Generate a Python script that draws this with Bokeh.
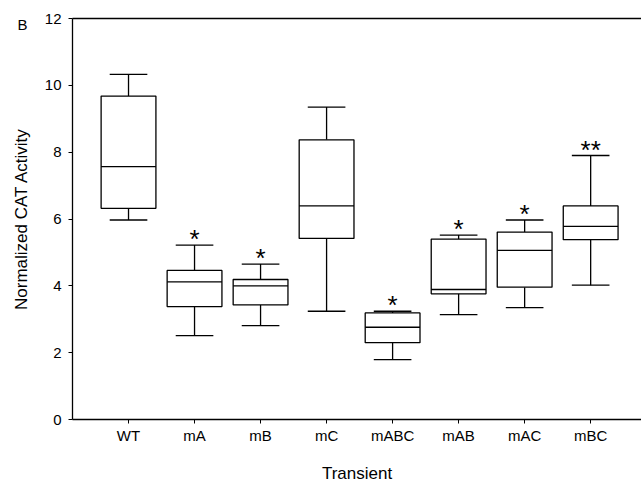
from bokeh.plotting import figure
from bokeh.models import Range1d, FixedTicker, LinearAxis, ColumnDataSource, Title
from bokeh.core.properties import value
from bokeh.embed import file_html
from bokeh.resources import INLINE

categories = ["WT", "mA", "mB", "mC", "mABC", "mAB", "mAC", "mBC"]
whisker_low = [5.97, 2.51, 2.81, 3.24, 1.79, 3.14, 3.35, 4.02]
q1 = [6.32, 3.38, 3.43, 5.42, 2.30, 3.76, 3.96, 5.38]
median = [7.57, 4.12, 4.00, 6.39, 2.76, 3.89, 5.06, 5.78]
q3 = [9.68, 4.46, 4.19, 8.37, 3.19, 5.40, 5.61, 6.39]
whisker_high = [10.33, 5.22, 4.65, 9.35, 3.24, 5.52, 5.97, 7.90]
stars = ["", "*", "*", "", "*", "*", "*", "**"]
y_ticks = [0, 2, 4, 6, 8, 10, 12]

FONT = "Liberation Sans"
xs = list(range(1, len(categories) + 1))
bw = 0.83
cw = 0.57

src = ColumnDataSource(dict(
    x=xs,
    left=[x - bw / 2 for x in xs], right=[x + bw / 2 for x in xs],
    cl=[x - cw / 2 for x in xs], cr=[x + cw / 2 for x in xs],
    lo=whisker_low, q1=q1, med=median, q3=q3, hi=whisker_high, star=stars,
))

p = figure(width=641, height=485, output_backend="svg", toolbar_location=None,
           x_range=Range1d(0.1515, 8.77), y_range=Range1d(0, 12),
           min_border_left=72, min_border_top=18, min_border_bottom=66,
           min_border_right=0)
p.outline_line_color = None
p.grid.visible = False
p.background_fill_color = "white"

lw = 1.3
p.segment(x0="x", y0="q3", x1="x", y1="hi", source=src, line_color="black", line_width=lw)
p.segment(x0="x", y0="lo", x1="x", y1="q1", source=src, line_color="black", line_width=lw)
p.segment(x0="cl", y0="hi", x1="cr", y1="hi", source=src, line_color="black", line_width=lw)
p.segment(x0="cl", y0="lo", x1="cr", y1="lo", source=src, line_color="black", line_width=lw)
p.quad(left="left", right="right", bottom="q1", top="q3", source=src,
       fill_color="white", line_color="black", line_width=lw)
p.segment(x0="left", y0="med", x1="right", y1="med", source=src, line_color="black", line_width=lw)
p.text(x="x", y="hi", text="star", source=src, text_align="center", text_baseline="middle",
       y_offset=-6, text_font=value(FONT), text_font_size="26px", text_color="black")

xa = p.xaxis[0]
xa.ticker = FixedTicker(ticks=xs)
xa.major_label_overrides = {x: c for x, c in zip(xs, categories)}
xa.axis_label = "Transient"
ya = p.yaxis[0]
ya.ticker = FixedTicker(ticks=y_ticks)
ya.axis_label = "Normalized CAT Activity"
for ax in (xa, ya):
    ax.minor_tick_line_color = None
    ax.major_tick_out = 4
    ax.major_tick_in = 0
    ax.axis_line_color = "black"
    ax.major_tick_line_color = "black"
    ax.axis_line_width = 1.3
    ax.major_label_text_font = FONT
    ax.major_label_text_font_size = "15px"
    ax.major_label_text_color = "black"
    ax.axis_label_text_font = FONT
    ax.axis_label_text_font_size = "17px"
    ax.axis_label_text_font_style = "normal"
    ax.axis_label_text_color = "black"
xa.major_label_standoff = 3
xa.axis_label_standoff = 17
ya.major_label_standoff = 7
ya.axis_label_standoff = 11

top = LinearAxis(ticker=FixedTicker(ticks=[]), major_tick_line_color=None,
                 minor_tick_line_color=None, major_label_text_font_size="0px",
                 major_label_standoff=0, axis_line_color="black", axis_line_width=1.3)
p.add_layout(top, "above")

p.title = Title(text="B", align="left", offset=-55, vertical_align="bottom",
                standoff=-29, text_font=FONT, text_font_size="15px",
                text_font_style="normal", text_color="black")

open("out.html", "w").write(file_html(p, INLINE))
